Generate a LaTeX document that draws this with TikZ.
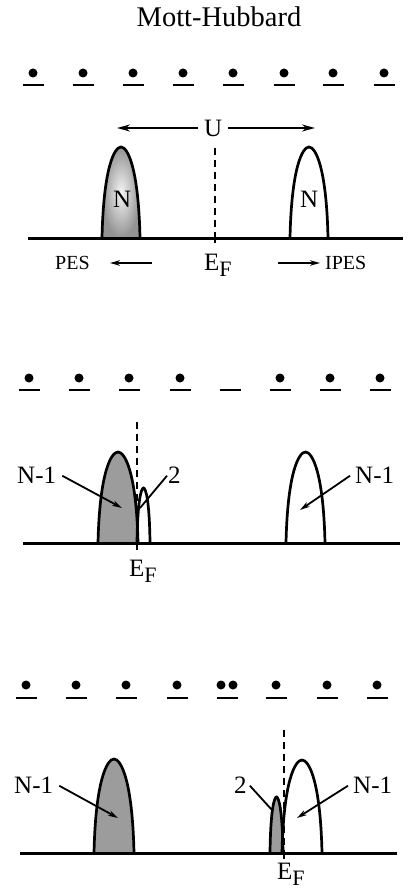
\documentclass[tikz,border=0pt]{standalone}
\usepackage{fontspec}
\setmainfont{Liberation Serif}
\usetikzlibrary{arrows.meta}
\newcommand\archpk[6]{#1[#2] (#3,#6) .. controls ({#3+0.04*(#4-#3)},{#5+0.22*(#6-#5)}) and ({(#3+#4)/2-0.17*(#4-#3)},#5) .. ({(#3+#4)/2},#5) .. controls ({(#3+#4)/2+0.17*(#4-#3)},#5) and ({#4-0.04*(#4-#3)},{#5+0.22*(#6-#5)}) .. (#4,#6);}
\newcommand\EF{E\raisebox{-6.5pt}{\fontsize{22}{22}\selectfont F}}
\begin{document}
\begin{tikzpicture}[x=1pt,y=-1pt,
  lbl/.style={font=\fontsize{25}{27}\selectfont, inner sep=0pt, anchor=base west},
  small/.style={font=\fontsize{20}{22}\selectfont, inner sep=0pt, anchor=base west},
  dotnode/.style={circle, fill=black, inner sep=0pt, minimum size=9pt},
  site/.style={line width=2.5pt},
  baseline/.style={line width=3pt},
  peak/.style={line width=2.7pt},
  efline/.style={line width=2.3pt, dash pattern=on 7pt off 5pt},
  tick/.style={line width=2.3pt},
  ptr/.style={line width=1.8pt, -{Stealth[length=10pt,width=5.5pt]}},
  uarrow/.style={line width=2pt, -{Stealth[length=13pt,width=7pt]}},
  darkfill/.style={fill=gray!78}
]
\useasboundingbox (0,0) rectangle (407,893);
\fill[white] (0,0) rectangle (407,893);

% title
\node[font=\fontsize{28.5}{30}\selectfont, inner sep=0pt] (title) at (219,17) {Mott-Hubbard};

% ================= panel 1 =================
\foreach \x [count=\i] in {33,83,133,183,233,284,333,384} {
  \node[dotnode] (pa\i) at (\x,73) {};
  \draw[site] (\x-10.5,85) -- (\x+10.5,85);
}
\archpk{\shade}{inner color=gray!8, outer color=gray!85}{102}{140}{147}{238}
\archpk{\draw}{peak}{102}{140}{147}{238}
\archpk{\draw}{peak}{290}{328}{147}{238}
\coordinate (ef1top) at (215,148);
\coordinate (ef1base) at (215,238);
\coordinate (ef1bot) at (215,243);
\draw[efline] (ef1top) -- (ef1base);
\draw[tick] (ef1base) -- (ef1bot);
\draw[baseline] (28,238) -- (403,238);
\node[lbl] (n1l) at (113,208) {N};
\node[lbl] (n1r) at (300,208) {N};
\node[lbl] (U) at (204,137) {U};
\coordinate (ul) at (117,128);
\coordinate (ur) at (315,128);
\draw[uarrow] ([xshift=-6pt]U.west |- ul) -- (ul);
\draw[uarrow] ([xshift=6pt]U.east |- ur) -- (ur);
\node[small] (pes) at (55,269) {PES};
\node[small] (ipes) at (325,269) {IPES};
\coordinate (pesA) at (152,263);
\coordinate (pesB) at (110,263);
\coordinate (ipesA) at (278,263);
\coordinate (ipesB) at (320,263);
\draw[ptr] (pesA) -- (pesB);
\draw[ptr] (ipesA) -- (ipesB);
\node[lbl] (ef1) at (204,270) {\EF};

% ================= panel 2 =================
\foreach \x [count=\i] in {29,79,129,180,230,280,330,380} {
  \ifnum\i=5 \else \node[dotnode] (pb\i) at (\x,378) {}; \fi
  \draw[site] (\x-10.5,390) -- (\x+10.5,390);
}
\archpk{\filldraw}{peak,darkfill}{98}{138}{452}{543}
\archpk{\draw}{peak}{137}{150}{488}{543}
\archpk{\draw}{peak}{286}{325}{452}{543}
\coordinate (ef2top) at (137,422);
\coordinate (ef2base) at (137,543);
\coordinate (ef2bot) at (137,550);
\draw[efline] (ef2top) -- (ef2base);
\draw[tick] (ef2base) -- (ef2bot);
\draw[baseline] (23,543) -- (400,543);
\node[lbl] (b1) at (17,483) {N-1};
\node[lbl] (b2) at (168,483) {2};
\node[lbl] (b3) at (355,483) {N-1};
\coordinate (b1t) at (122,508);
\coordinate (b2t) at (140,508);
\coordinate (b3t) at (300,510);
\draw[ptr] ([xshift=6pt,yshift=-1pt]b1.east) -- (b1t);
\draw[line width=1.8pt] ([xshift=-1pt,yshift=-1pt]b2.west) -- (b2t);
\draw[ptr] ([xshift=-5pt,yshift=-1pt]b3.west) -- (b3t);
\node[lbl] (ef2) at (129,576) {\EF};

% ================= panel 3 =================
\foreach \x [count=\i] in {26,76,126,177,227,276,327,377} {
  \ifnum\i=5
    \node[dotnode] (pc5a) at (221,685) {};
    \node[dotnode] (pc5b) at (233,685) {};
  \else \node[dotnode] (pc\i) at (\x,685) {}; \fi
  \draw[site] (\x-10.5,698) -- (\x+10.5,698);
}
\archpk{\filldraw}{peak,darkfill}{94}{134}{759}{853}
\archpk{\filldraw}{peak,darkfill}{270}{283}{797}{853}
\archpk{\draw}{peak}{282}{322}{760}{853}
\coordinate (ef3top) at (284,730);
\coordinate (ef3base) at (284,853);
\coordinate (ef3bot) at (284,859);
\draw[efline] (ef3top) -- (ef3base);
\draw[tick] (ef3base) -- (ef3bot);
\draw[baseline] (20,853) -- (397,853);
\node[lbl] (c1) at (14,793) {N-1};
\node[lbl] (c2) at (234,793) {2};
\node[lbl] (c3) at (353,793) {N-1};
\coordinate (c1t) at (118,818);
\coordinate (c2t) at (272,810);
\coordinate (c3t) at (297,818);
\draw[ptr] ([xshift=6pt,yshift=-1pt]c1.east) -- (c1t);
\draw[line width=1.8pt] ([xshift=3pt,yshift=-1pt]c2.east) -- (c2t);
\draw[ptr] ([xshift=-5pt,yshift=-1pt]c3.west) -- (c3t);
\node[lbl] (ef3) at (277,879) {\EF};
\end{tikzpicture}
\end{document}
